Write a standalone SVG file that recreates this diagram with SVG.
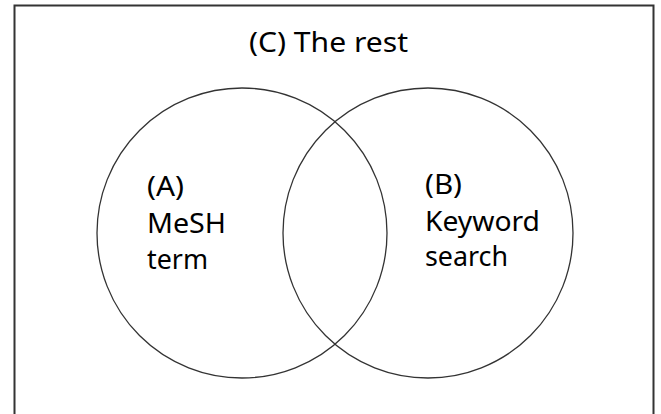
<svg xmlns="http://www.w3.org/2000/svg" width="661" height="414" viewBox="0 0 661 414">
<style>
.t{font-family:"Noto Sans","Open Sans","DejaVu Sans",sans-serif;font-size:27px;fill:#000}
.c{fill:none;stroke:#333;stroke-width:1.3}
</style>
<rect x="0" y="0" width="661" height="414" fill="#fff"/>
<g id="frame"><path d="M14.5 430 V5.5 H653.5 V430" fill="none" stroke="#333" stroke-width="2"/></g>
<g id="setC"><text class="t" x="249" y="52" textLength="159" lengthAdjust="spacingAndGlyphs">(C) The rest</text></g>
<g id="setA"><circle class="c" cx="242" cy="233" r="145"/>
<text class="t" x="147" y="196" textLength="37" lengthAdjust="spacingAndGlyphs">(A)</text><text class="t" x="147" y="233" textLength="79" lengthAdjust="spacingAndGlyphs">MeSH</text><text class="t" x="147" y="269" textLength="61" lengthAdjust="spacingAndGlyphs">term</text></g>
<g id="setB"><circle class="c" cx="428" cy="233" r="145"/>
<text class="t" x="425" y="194" textLength="37" lengthAdjust="spacingAndGlyphs">(B)</text><text class="t" x="425" y="231" textLength="115" lengthAdjust="spacingAndGlyphs">Keyword</text><text class="t" x="425" y="266" textLength="83" lengthAdjust="spacingAndGlyphs">search</text></g>
<g id="connectors"/>
</svg>
